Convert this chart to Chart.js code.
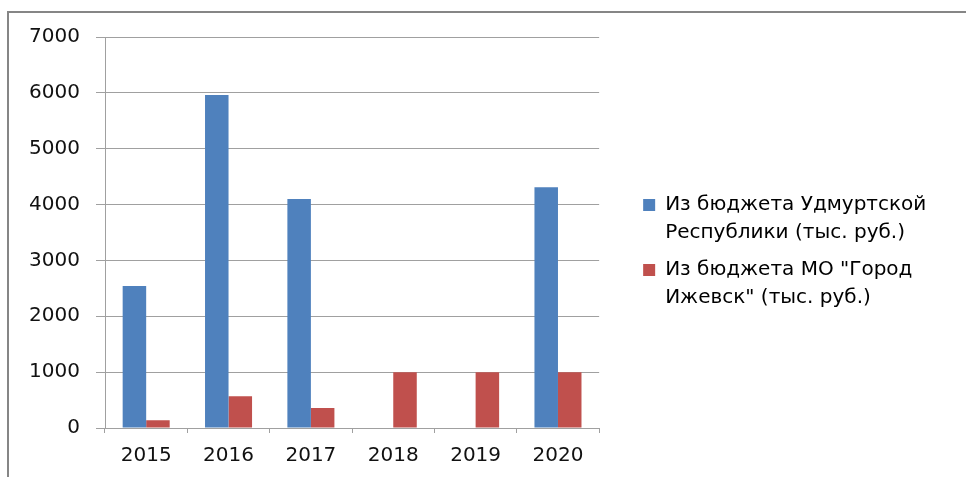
<!DOCTYPE html>
<html>
<head>
<meta charset="utf-8">
<script src="https://cdn.jsdelivr.net/npm/chart.js@4/dist/chart.umd.min.js"></script>
<style>
    html, body { margin: 0; padding: 0; background: #fff; }
    #wrap { position: absolute; left: 0; top: 0; width: 966px; height: 477px; }
    #frame {
        position: absolute; left: 7px; top: 11px; width: 1000px; height: 520px;
        border: 2px solid #868686;
    }
</style>
</head>
<body>
<div id="frame"></div>
<div id="wrap"><canvas id="budget-chart"></canvas></div>
<script>
// Categories and series (тыс. руб.)
const years = ['2015', '2016', '2017', '2018', '2019', '2020'];
const udmurtBudget = [2540, 5960, 4100, null, null, 4310];
const izhevskBudget = [140, 570, 360, 1000, 1000, 1000];
// legend lines (trailing spaces keep the first line the one the legend measures)
const seriesNames = [
    ['Из бюджета Удмуртской  ', 'Республики (тыс. руб.)'],
    ['Из бюджета МО "Город', 'Ижевск" (тыс. руб.)']
];
const yTicks = [0, 1000, 2000, 3000, 4000, 5000, 6000, 7000];

const fontFamily = '"DejaVu Sans", Verdana, sans-serif';
const gridColor = '#a0a0a0';

const budgetChart = new Chart(
    document.getElementById('budget-chart'),
    {
        type: 'bar',
        data: {
            labels: years,
            datasets: [
                {
                    label: seriesNames[0].join(' ').trim(),
                    data: udmurtBudget,
                    backgroundColor: '#4f81bd',
                    borderWidth: 0
                },
                {
                    label: seriesNames[1].join(' '),
                    data: izhevskBudget,
                    backgroundColor: '#c0504d',
                    borderWidth: 0
                }
            ]
        },
        options: {
            responsive: true,
            maintainAspectRatio: false,
            animation: false,
            layout: {
                padding: { top: 37, bottom: 3, left: 0, right: 17 }
            },
            datasets: {
                bar: {
                    barPercentage: 1,
                    categoryPercentage: 0.571
                }
            },
            scales: {
                x: {
                    afterFit: scale => {
                        scale.height = 46;
                    },
                    grid: {
                        drawOnChartArea: false,
                        offset: true,
                        color: gridColor,
                        tickLength: 5
                    },
                    border: { color: gridColor },
                    ticks: {
                        color: '#111',
                        padding: 11,
                        font: { family: fontFamily, size: 20 }
                    }
                },
                y: {
                    min: 0,
                    max: 7000,
                    afterBuildTicks: scale => {
                        scale.ticks = yTicks.map(v => ({ value: v }));
                    },
                    afterFit: scale => {
                        scale.width = 105;
                    },
                    grid: {
                        color: gridColor,
                        tickLength: 9
                    },
                    border: { color: gridColor },
                    ticks: {
                        color: '#111',
                        padding: 16,
                        font: { family: fontFamily, size: 20 },
                        callback: value => String(value)
                    }
                },
                // empty gap between plot and legend
                gap: {
                    type: 'linear',
                    position: 'right',
                    grid: { display: false },
                    border: { display: false },
                    ticks: { display: false },
                    afterFit: scale => {
                        scale.width = 35;
                    }
                }
            },
            plugins: {
                tooltip: { enabled: false },
                legend: {
                    position: 'right',
                    align: 'center',
                    maxWidth: 400,
                    labels: {
                        boxWidth: 12,
                        boxHeight: 12,
                        padding: 9,
                        color: '#111',
                        font: { family: fontFamily, size: 20, lineHeight: 1.4 },
                        generateLabels: chart => chart.data.datasets.map((ds, i) => ({
                            text: seriesNames[i],
                            fillStyle: ds.backgroundColor,
                            strokeStyle: ds.backgroundColor,
                            lineWidth: 0,
                            hidden: false,
                            datasetIndex: i
                        }))
                    }
                }
            }
        }
    }
);
</script>
</body>
</html>
